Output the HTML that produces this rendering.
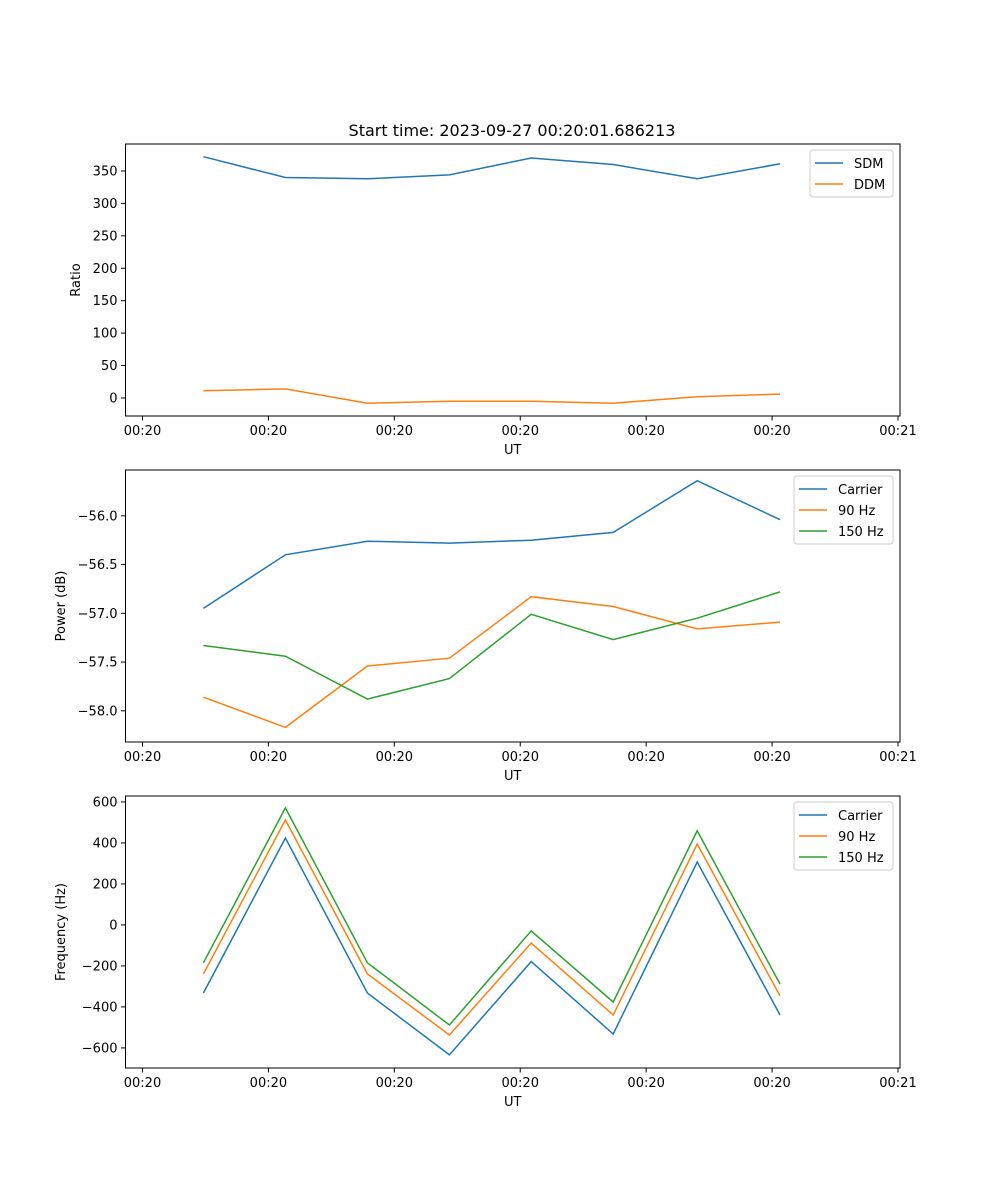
<!DOCTYPE html>
<html><head><meta charset="utf-8">
<style>
html,body{margin:0;padding:0;background:#fff;}
svg{display:block;font-family:"DejaVu Sans","Liberation Sans",sans-serif;}
</style></head>
<body>
<svg id="fig" width="1000" height="1200" xmlns="http://www.w3.org/2000/svg">
<rect width="1000" height="1200" fill="#fff"/>
<text x="512" y="136" font-size="16" text-anchor="middle">Start time: 2023-09-27 00:20:01.686213</text>
</svg>
<script>
const times = [0.484, 1.135, 1.786, 2.437, 3.087, 3.738, 4.405, 5.063];
const xTickVals = [0,1,2,3,4,5,6];
const xTickLabels = ["00:20","00:20","00:20","00:20","00:20","00:20","00:21"];
const sdm = [372, 340, 338, 344, 370, 360, 338, 361];
const ddm = [11, 14, -8, -5, -5, -8, 2, 6];
const pwrCarrier = [-56.95, -56.40, -56.26, -56.28, -56.25, -56.17, -55.64, -56.04];
const pwr90 = [-57.86, -58.17, -57.54, -57.46, -56.83, -56.93, -57.16, -57.09];
const pwr150 = [-57.33, -57.44, -57.88, -57.67, -57.01, -57.27, -57.05, -56.78];
const frqCarrier = [-332, 424, -332, -634, -179, -532, 307, -439];
const frq90 = [-239, 512, -239, -537, -88, -439, 395, -346];
const frq150 = [-185, 571, -185, -488, -29, -376, 459, -288];
const ticks1 = [0,50,100,150,200,250,300,350];
const ticks2 = [-58.0,-57.5,-57.0,-56.5,-56.0];
const ticks3 = [-600,-400,-200,0,200,400,600];

const NS="http://www.w3.org/2000/svg";
const svg=document.getElementById('fig');
const C={blue:'#1f77b4',orange:'#ff7f0e',green:'#2ca02c'};
const L=125.5,R=900,xmin=-0.135,xmax=6.016;
function sx(t){return L+(t-xmin)/(xmax-xmin)*(R-L);}
function mk(tag,attrs,parent){const e=document.createElementNS(NS,tag);for(const k in attrs)e.setAttribute(k,attrs[k]);(parent||svg).appendChild(e);return e;}

function panel(name,top,bot,ymin,ymax,yt,fmt,ylabel,series,legend){
  const g=mk('g',{});
  
  
  const sy=v=>bot-(v-ymin)/(ymax-ymin)*(bot-top);
  series.forEach(s=>{
    const p=mk('polyline',{points:s.d.map((v,i)=>sx(times[i]).toFixed(1)+','+sy(v).toFixed(1)).join(' '),fill:'none',stroke:s.c,'stroke-width':1.5},g);
    
    
  });
  const fr=mk('rect',{x:L,y:top,width:R-L,height:bot-top,fill:'none',stroke:'#000','stroke-width':1},g);
  
  
  xTickVals.forEach((t,i)=>{
    const x=sx(t);
    mk('line',{x1:x,x2:x,y1:bot,y2:bot+4.5,stroke:'#000'},g);
    const tx=mk('text',{x:x,y:bot+19,'font-size':13,'text-anchor':'middle'},g);tx.textContent=xTickLabels[i];
    
    
  });
  yt.forEach(v=>{
    const y=sy(v);
    mk('line',{x1:L-4.5,x2:L,y1:y,y2:y,stroke:'#000'},g);
    const tx=mk('text',{x:L-8,y:y+4.5,'font-size':13,'text-anchor':'end'},g);tx.textContent=fmt(v);
    
    
  });
  const xl=mk('text',{x:(L+R)/2,y:bot+38,'font-size':13,'text-anchor':'middle'},g);xl.textContent='UT';
  
  
  const yc=(top+bot)/2, yx=name==='ratio-panel'?80:65;
  const yl=mk('text',{x:yx,y:yc,'font-size':13,'text-anchor':'middle',transform:`rotate(-90 ${yx} ${yc})`},g);yl.textContent=ylabel;
  
  
  const lg=mk('g',{},g);
  
  
  mk('rect',{x:legend.x,y:top+6,width:R-7-legend.x,height:series.length*21+5,rx:3,fill:'#fff',stroke:'#ccc','fill-opacity':0.8},lg);
  series.forEach((s,i)=>{
    const y=top+6+13+i*21;
    mk('line',{x1:legend.x+5,x2:legend.x+33,y1:y,y2:y,stroke:s.c,'stroke-width':1.5},lg);
    const t=mk('text',{x:legend.x+44,y:y+5,'font-size':13},lg);t.textContent=s.label;
    
    
  });
}
panel('ratio-panel',144,416,-27.8,391.6,ticks1,v=>String(v),'Ratio',
  [{d:sdm,c:C.blue,n:'sdm-line',label:'SDM'},{d:ddm,c:C.orange,n:'ddm-line',label:'DDM'}],{x:810});
panel('power-panel',470,742,-58.32,-55.53,ticks2,v=>'\u2212'+Math.abs(v).toFixed(1),'Power (dB)',
  [{d:pwrCarrier,c:C.blue,n:'power-carrier-line',label:'Carrier'},{d:pwr90,c:C.orange,n:'power-90hz-line',label:'90 Hz'},{d:pwr150,c:C.green,n:'power-150hz-line',label:'150 Hz'}],{x:794});
panel('frequency-panel',796,1068,-698,629,ticks3,v=>(v<0?'\u2212':'')+Math.abs(v),'Frequency (Hz)',
  [{d:frqCarrier,c:C.blue,n:'freq-carrier-line',label:'Carrier'},{d:frq90,c:C.orange,n:'freq-90hz-line',label:'90 Hz'},{d:frq150,c:C.green,n:'freq-150hz-line',label:'150 Hz'}],{x:794});
</script>
</body></html>
